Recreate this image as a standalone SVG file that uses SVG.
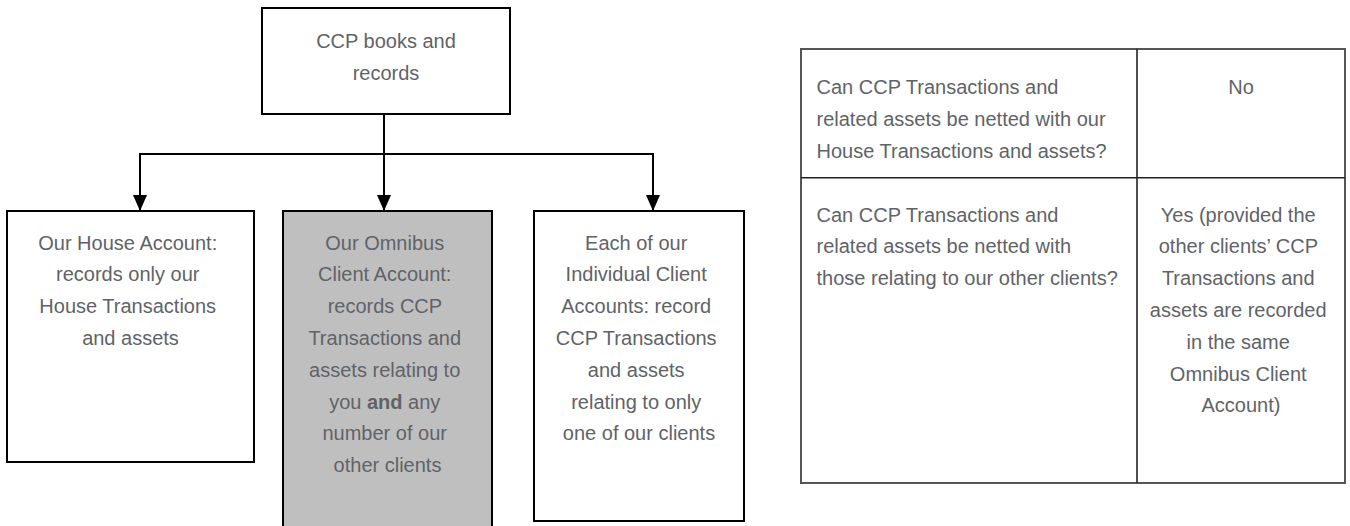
<svg xmlns="http://www.w3.org/2000/svg" width="1350" height="526" viewBox="0 0 1350 526">
  <defs>
    <style>
      .box { fill: #ffffff; stroke: #000000; stroke-width: 2; }
      .box-shaded { fill: #bfbfbf; stroke: #000000; stroke-width: 2; }
      .lbl { font-family: "Liberation Sans", Arial, sans-serif; font-size: 20px; fill: #5f6368; }
      .mid { text-anchor: middle; }
      .conn { fill: none; stroke: #000000; stroke-width: 2; }
      .grid-outer { fill: #ffffff; stroke: #555555; stroke-width: 2; }
      .grid-line { stroke: #222222; stroke-width: 1.6; }
    </style>
    <marker id="arrowhead" viewBox="0 0 16 14" refX="16" refY="7" markerWidth="16" markerHeight="14" markerUnits="userSpaceOnUse" orient="auto">
      <path d="M0,0 L16,7 L0,14 Z" fill="#000000"/>
    </marker>
  </defs>

  <!-- Root node -->
  <g id="ccp-books">
    <rect class="box" x="262" y="8" width="248" height="106"/>
    <text class="lbl mid" x="386" y="48">CCP books and</text>
    <text class="lbl mid" x="386" y="80">records</text>
  </g>

  <!-- Connectors from the root to the three accounts -->
  <g id="connectors">
    <line class="conn" x1="384" y1="114" x2="384" y2="211" marker-end="url(#arrowhead)"/>
    <polyline class="conn" points="384,154 140,154 140,211" marker-end="url(#arrowhead)"/>
    <polyline class="conn" points="384,154 653,154 653,211" marker-end="url(#arrowhead)"/>
  </g>

  <!-- House account -->
  <g id="house-account">
    <rect class="box" x="7" y="211" width="247" height="251"/>
    <text class="lbl mid" x="130.5">
      <tspan x="130.5" y="249.5">Our House Account:</tspan>
      <tspan x="130.5" y="281.3">records only our</tspan>
      <tspan x="130.5" y="313.1">House Transactions</tspan>
      <tspan x="130.5" y="344.9">and assets</tspan>
    </text>
  </g>

  <!-- Omnibus client account -->
  <g id="omnibus-account">
    <rect class="box-shaded" x="283" y="211" width="209" height="330"/>
    <text class="lbl mid" x="387.5">
      <tspan x="387.5" y="249.5">Our Omnibus</tspan>
      <tspan x="387.5" y="281.3">Client Account:</tspan>
      <tspan x="387.5" y="313.1">records CCP</tspan>
      <tspan x="387.5" y="344.9">Transactions and</tspan>
      <tspan x="387.5" y="376.7">assets relating to</tspan>
      <tspan x="387.5" y="408.5">you <tspan font-weight="bold">and</tspan> any</tspan>
      <tspan x="387.5" y="440.3">number of our</tspan>
      <tspan x="387.5" y="472.1">other clients</tspan>
    </text>
  </g>

  <!-- Individual client accounts -->
  <g id="individual-accounts">
    <rect class="box" x="534" y="211" width="210" height="310"/>
    <text class="lbl mid" x="639">
      <tspan x="639" y="249.5">Each of our</tspan>
      <tspan x="639" y="281.3">Individual Client</tspan>
      <tspan x="639" y="313.1">Accounts: record</tspan>
      <tspan x="639" y="344.9">CCP Transactions</tspan>
      <tspan x="639" y="376.7">and assets</tspan>
      <tspan x="639" y="408.5">relating to only</tspan>
      <tspan x="639" y="440.3">one of our clients</tspan>
    </text>
  </g>

  <!-- Netting table -->
  <g id="netting-table">
    <rect class="grid-outer" x="801" y="49" width="544" height="434"/>
    <line class="grid-line" x1="801" y1="177.7" x2="1345" y2="177.7"/>
    <line class="grid-line" x1="1137" y1="49" x2="1137" y2="483"/>

    <text class="lbl">
      <tspan x="816.5" y="94">Can CCP Transactions and</tspan>
      <tspan x="816.5" y="125.8">related assets be netted with our</tspan>
      <tspan x="816.5" y="157.6">House Transactions and assets?</tspan>
    </text>
    <text class="lbl mid" x="1241" y="94">No</text>

    <text class="lbl">
      <tspan x="816.5" y="221.5">Can CCP Transactions and</tspan>
      <tspan x="816.5" y="253.3">related assets be netted with</tspan>
      <tspan x="816.5" y="285.1">those relating to our other clients?</tspan>
    </text>
    <text class="lbl mid" x="1241">
      <tspan x="1241" y="221.5">Yes (provided the</tspan>
      <tspan x="1241" y="253.3">other clients’ CCP</tspan>
      <tspan x="1241" y="285.1">Transactions and</tspan>
      <tspan x="1241" y="316.9">assets are recorded</tspan>
      <tspan x="1241" y="348.7">in the same</tspan>
      <tspan x="1241" y="380.5">Omnibus Client</tspan>
      <tspan x="1241" y="412.3">Account)</tspan>
    </text>
  </g>
</svg>
